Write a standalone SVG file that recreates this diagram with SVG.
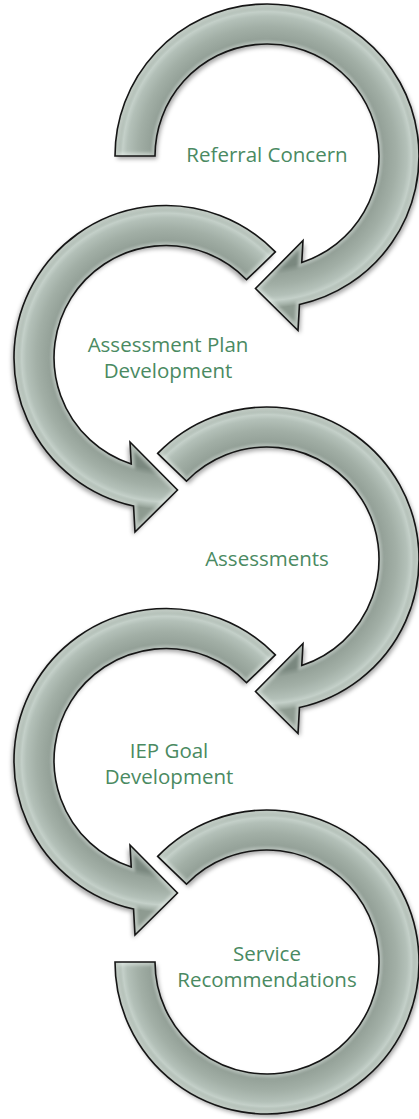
<svg xmlns="http://www.w3.org/2000/svg" xmlns:xlink="http://www.w3.org/1999/xlink" width="419" height="1119" viewBox="0 0 419 1119">
  <style>
    .body { fill: url(#tube); stroke: none; filter: url(#shadow); }
    .bevel { fill: none; stroke: #f2f8f4; stroke-opacity: 0.45; stroke-width: 7; filter: url(#soft); }
    .edge { fill: none; stroke: #151515; stroke-width: 1.6; stroke-linejoin: miter; }
    .label { font-family: "Open Sans", "Liberation Sans", sans-serif; font-size: 20.5px; fill: #4a8a62; text-anchor: middle; }
  </style>
  <defs>
    <!-- ring band: outer radius 152, inner radius 112, drawn around the origin -->
    <radialGradient id="tube" gradientUnits="userSpaceOnUse" cx="0" cy="0" r="152">
      <stop offset="0.737" stop-color="#7a887f"/>
      <stop offset="0.78" stop-color="#96a39a"/>
      <stop offset="0.85" stop-color="#a2afa6"/>
      <stop offset="0.92" stop-color="#b3c0b8"/>
      <stop offset="0.95" stop-color="#c4d0c9"/>
      <stop offset="0.98" stop-color="#a6b3aa"/>
      <stop offset="1" stop-color="#8e9b91"/>
    </radialGradient>
    <filter id="shadow" x="-20%" y="-20%" width="140%" height="140%">
      <feDropShadow dx="2" dy="3" stdDeviation="2.2" flood-color="#000" flood-opacity="0.35"/>
    </filter>
    <filter id="soft" x="-10%" y="-10%" width="120%" height="120%">
      <feGaussianBlur stdDeviation="1.5"/>
    </filter>

    <!-- first step: flat tail at 180deg, head at the lower left -->
    <path id="arrowFirst" d="M -152 0 A 152 152 0 1 1 32.46 148.49 L 31 174.5 L -11.5 132.5 L 36 84.5 L 34.77 106.47 A 112 112 0 1 0 -112 0 Z"/>
    <!-- middle steps: tail cut at 224deg -->
    <path id="arrowMid" d="M -109.34 -105.59 A 152 152 0 1 1 32.46 148.49 L 31 174.5 L -11.5 132.5 L 36 84.5 L 34.77 106.47 A 112 112 0 1 0 -80.57 -77.8 Z"/>
    <!-- last step: open ring without a head -->
    <path id="arrowLast" d="M -109.34 -105.59 A 152 152 0 1 1 -152 0 L -112 0 A 112 112 0 1 0 -80.57 -77.8 Z"/>

    <clipPath id="clipFirst"><use xlink:href="#arrowFirst"/></clipPath>
    <clipPath id="clipMid"><use xlink:href="#arrowMid"/></clipPath>
    <clipPath id="clipLast"><use xlink:href="#arrowLast"/></clipPath>
  </defs>

  <rect width="419" height="1119" fill="#ffffff"/>

  <g id="step-referral">
    <g transform="translate(267 156)">
      <use xlink:href="#arrowFirst" class="body"/>
      <use xlink:href="#arrowFirst" class="bevel" clip-path="url(#clipFirst)"/>
      <use xlink:href="#arrowFirst" class="edge"/>
    </g>
    <text class="label" x="267" y="162">Referral Concern</text>
  </g>

  <g id="step-assessment-plan">
    <g transform="translate(166 357.5) scale(-1 1)">
      <use xlink:href="#arrowMid" class="body"/>
      <use xlink:href="#arrowMid" class="bevel" clip-path="url(#clipMid)"/>
      <use xlink:href="#arrowMid" class="edge"/>
    </g>
    <text class="label" x="168" y="352">Assessment Plan</text>
    <text class="label" x="168" y="378">Development</text>
  </g>

  <g id="step-assessments">
    <g transform="translate(267 559)">
      <use xlink:href="#arrowMid" class="body"/>
      <use xlink:href="#arrowMid" class="bevel" clip-path="url(#clipMid)"/>
      <use xlink:href="#arrowMid" class="edge"/>
    </g>
    <text class="label" x="267" y="566">Assessments</text>
  </g>

  <g id="step-iep-goal">
    <g transform="translate(166 760.5) scale(-1 1)">
      <use xlink:href="#arrowMid" class="body"/>
      <use xlink:href="#arrowMid" class="bevel" clip-path="url(#clipMid)"/>
      <use xlink:href="#arrowMid" class="edge"/>
    </g>
    <text class="label" x="169" y="758">IEP Goal</text>
    <text class="label" x="169" y="784">Development</text>
  </g>

  <g id="step-service">
    <g transform="translate(267 962)">
      <use xlink:href="#arrowLast" class="body"/>
      <use xlink:href="#arrowLast" class="bevel" clip-path="url(#clipLast)"/>
      <use xlink:href="#arrowLast" class="edge"/>
    </g>
    <text class="label" x="267" y="961">Service</text>
    <text class="label" x="267" y="987">Recommendations</text>
  </g>
</svg>
